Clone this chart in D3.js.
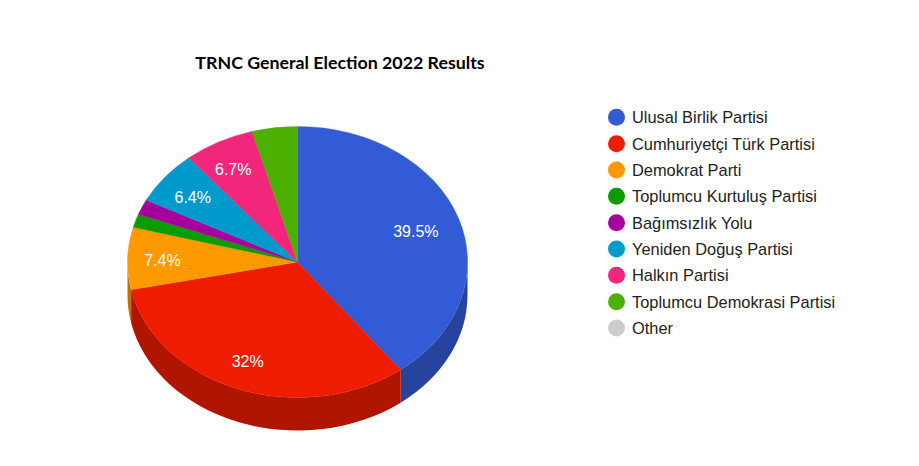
<!DOCTYPE html>
<html>
<head>
<meta charset="utf-8">
<script src="https://cdn.jsdelivr.net/npm/d3@7"></script>
<style>
html, body { margin: 0; padding: 0; background: #fff; }
svg { display: block; }
</style>
</head>
<body>
<svg width="919" height="466"></svg>
<script>
var parties = ["Ulusal Birlik Partisi", "Cumhuriyetçi Türk Partisi", "Demokrat Parti", "Toplumcu Kurtuluş Partisi",
   "Bağımsızlık Yolu", "Yeniden Doğuş Partisi", "Halkın Partisi", "Toplumcu Demokrasi Partisi", "Other"];
var votes = [39.5, 32, 7.4, 1.6, 1.8, 6.4, 6.7, 4.3, 0];
var sliceLabels = ["39.5%", "32%", "7.4%", "", "", "6.4%", "6.7%", "", ""];
var colors = ["#335bd6", "#ef1d00", "#ff9900", "#0a9c00", "#a6009c", "#0099cc", "#f2267a", "#4db000", "#cccccc"];
var titleText = "TRNC General Election 2022 Results";

var svg = d3.select("svg"),
   cx = 297.5, cy = 262,
   rx = 170, ry = 135.5,
   depth = 33;

svg.append("text")
   .attr("x", 340)
   .attr("y", 69)
   .attr("text-anchor", "middle")
   .attr("font-family", "Lato, Carlito, sans-serif")
   .attr("font-weight", 700)
   .attr("font-size", 17.8)
   .attr("fill", "#000")
   .text(titleText);

var pie = d3.pie().sort(null).value(function(d) { return d.votes; });
var slices = pie(parties.map(function(p, i) { return { party: p, votes: votes[i], color: colors[i], label: sliceLabels[i] }; }));

function px(a) { return cx + rx * Math.sin(a); }
function py(a) { return cy - ry * Math.cos(a); }

// side wall, only the part facing the viewer
function wall(d) {
   var a0 = Math.max(d.startAngle, Math.PI / 2),
      a1 = Math.min(d.endAngle, 3 * Math.PI / 2);
   if (a1 <= a0) return null;
   var ell = rx + " " + ry + " 0 0 ";
   return "M" + px(a0) + "," + py(a0) +
      "A" + ell + "1 " + px(a1) + "," + py(a1) +
      "L" + px(a1) + "," + (py(a1) + depth) +
      "A" + ell + "0 " + px(a0) + "," + (py(a0) + depth) + "Z";
}

svg.append("g").selectAll("path")
   .data(slices.filter(function(d) { return wall(d); }))
   .join("path")
   .attr("d", wall)
   .attr("fill", function(d) { return d3.color(d.data.color).darker(0.85); });

// unit arc squashed into an ellipse
var arc = d3.arc().innerRadius(0).outerRadius(1);

svg.append("g")
   .attr("transform", "translate(" + cx + "," + cy + ") scale(" + rx + "," + ry + ")")
   .selectAll("path")
   .data(slices.filter(function(d) { return d.data.votes > 0; }))
   .join("path")
   .attr("d", arc)
   .attr("fill", function(d) { return d.data.color; })
   .attr("stroke", function(d) { return d.data.color; })
   .attr("stroke-width", 0.4)
   .attr("vector-effect", "non-scaling-stroke");

// how far out along the slice each label sits, across and down
var labelRadiusX = [0.735, 0.84, 0.795, 0, 0, 0.79, 0.815, 0, 0];
var labelRadiusY = [0.75, 0.772, 0.795, 0, 0, 0.778, 0.783, 0, 0];

svg.append("g").selectAll("text")
   .data(slices.filter(function(d) { return d.data.label; }))
   .join("text")
   .attr("x", function(d) { return cx + rx * labelRadiusX[d.index] * Math.sin((d.startAngle + d.endAngle) / 2); })
   .attr("y", function(d) { return cy - ry * labelRadiusY[d.index] * Math.cos((d.startAngle + d.endAngle) / 2); })
   .attr("dy", "0.46em")
   .attr("text-anchor", "middle")
   .attr("font-family", "'Liberation Sans', Arial, sans-serif")
   .attr("font-size", 16)
   .attr("fill", "#fff")
   .text(function(d) { return d.data.label; });

var legendY = d3.scalePoint().domain(parties).range([117.3, 328]);

var legend = svg.append("g").selectAll("g")
   .data(parties)
   .join("g")
   .attr("transform", function(d) { return "translate(616.5," + legendY(d) + ")"; });

legend.append("circle")
   .attr("r", 8.5)
   .attr("fill", function(d, i) { return colors[i]; });

legend.append("text")
   .attr("x", 15.5)
   .attr("dy", "0.36em")
   .attr("font-family", "'Liberation Sans', Arial, sans-serif")
   .attr("font-size", 16.4)
   .attr("fill", "#222")
   .text(function(d) { return d; });
</script>
</body>
</html>
